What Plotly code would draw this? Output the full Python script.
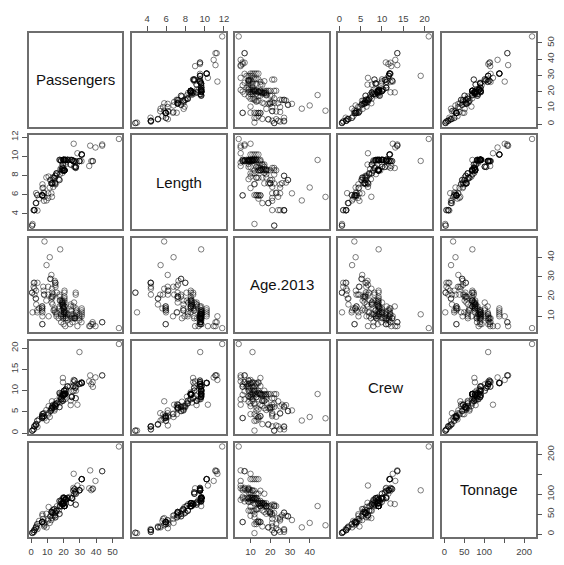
import plotly.graph_objects as go

# ---- data (one value per ship) ----
var_names = ["Passengers", "Length", "Age.2013", "Crew", "Tonnage"]

age = [6, 6, 26, 11, 17, 22, 15, 23, 19, 6, 10, 28, 18, 17, 11, 8, 9, 15, 12, 20,
       12, 14, 9, 13, 18, 11, 17, 12, 16, 13, 5, 12, 12, 21, 21, 13, 22, 27, 10, 9,
       23, 10, 20, 6, 17, 10, 18, 44, 10, 6, 15, 14, 13, 5, 20, 7, 10, 25, 16, 19,
       20, 17, 14, 27, 13, 11, 12, 5, 10, 31, 7, 9, 36, 11, 25, 11, 21, 6, 8, 21,
       14, 9, 25, 15, 9, 12, 20, 15, 13, 15, 48, 9, 29, 13, 14, 18, 5, 9, 11, 7,
       16, 9, 7, 12, 15, 10, 14, 22, 29, 9, 15, 11, 18, 14, 27, 12, 14, 16, 10, 12,
       11, 16, 13, 7, 17, 5, 9, 18, 7, 21, 10, 22, 11, 4, 13, 16, 10, 15, 14, 21,
       27, 24, 19, 13, 12, 19, 22, 21, 12, 24, 22, 14, 25, 27, 23, 40]

tonnage = [30.277, 30.277, 47.262, 110, 101.353, 70.367, 70.367, 70.367, 70.367, 110.239,
           110, 46.052, 70.367, 70.367, 86, 110, 88.5, 70.367, 88.5, 70.367,
           88.5, 101.509, 110, 101.509, 70.606, 91, 77.713, 91, 77.713, 91,
           122, 91, 2.329, 47.225, 28.43, 85.619, 52.926, 53.872, 105, 105,
           25, 86, 53.049, 114.5, 75.166, 68, 51.004, 70.327, 151.4, 90,
           83.338, 83, 61, 86, 55.451, 82, 81.769, 38, 59.652, 55.451,
           55.451, 55.451, 63, 53.872, 63, 85, 58.6, 133.5, 58.825, 35.143,
           89.6, 59.058, 16.852, 58.6, 34.25, 90, 50.76, 93.5, 91, 38,
           77.104, 81, 42, 75.338, 91, 77.104, 50.76, 30.277, 30.277, 30.277,
           22.08, 82, 45, 76, 77, 69.153, 115, 116, 91.627, 116,
           77.499, 113, 113, 108.865, 108.806, 91.627, 30.277, 70, 44.348, 113,
           77.499, 108.977, 77.499, 30.277, 12.5, 50, 33, 19.2, 46, 138,
           90.09, 74.137, 138, 158, 74.137, 160, 90.09, 70, 158, 73.941,
           138, 73.941, 138, 220, 90.09, 78.491, 90.09, 78.491, 138, 10,
           10, 10, 16.8, 25, 25, 16.8, 3.341, 19.093, 42, 40.053,
           3.341, 76.8, 5.35, 5.35, 14.745, 28]

passengers = [6.94, 6.94, 14.86, 29.74, 26.42, 20.52, 20.52, 20.56, 20.52, 37,
              29.74, 14.52, 20.52, 20.52, 21.24, 29.74, 21.24, 20.52, 21.24, 20.52,
              21.24, 27.58, 29.74, 27.58, 17.7, 20.32, 18.9, 20.32, 18.82, 20.32,
              28.5, 20.32, 0.94, 13.66, 8.08, 21.14, 13.02, 14.94, 27.2, 27.2,
              7.76, 21.14, 13.44, 38, 19.28, 10.8, 9.4, 17.91, 26.2, 20,
              17.5, 17.5, 13.8, 21.04, 12.64, 18.48, 18.48, 7.49, 13.2, 12.66,
              12.66, 12.66, 14.4, 14.94, 14.4, 18.48, 15.66, 39.59, 15.6, 12.5,
              25.5, 17, 9.52, 15.66, 10.52, 22.4, 17.48, 23.94, 22.44, 10.56,
              20.02, 21.44, 15.04, 19.56, 22.44, 20.02, 17.48, 6.84, 6.84, 6.84,
              8.26, 19.68, 11.78, 18.74, 20.16, 18.82, 35.74, 26, 19.74, 31,
              19.5, 26.74, 37.82, 27.58, 26, 19.74, 6.86, 15.9, 12, 26.74,
              19.5, 26.02, 19.5, 6.88, 3.94, 7, 4.9, 3.2, 7, 31.14,
              25.01, 19.5, 31.14, 43.7, 19.5, 36.34, 25.01, 18, 43.7, 27.44,
              31.14, 27.44, 31.14, 54, 25.01, 24.35, 25.01, 24.35, 31.14, 2.08,
              2.08, 2.08, 2.96, 3.82, 3.88, 2.96, 0.66, 8, 14.8, 12.87,
              0.66, 19.6, 1.58, 1.67, 3.08, 11.5]

length = [5.94, 5.94, 7.22, 9.53, 8.92, 8.55, 8.55, 8.55, 8.55, 9.51,
          9.51, 7.27, 8.55, 8.55, 9.63, 9.51, 9.63, 8.55, 9.63, 8.55,
          9.63, 8.93, 9.52, 8.93, 8.15, 9.65, 8.66, 9.65, 8.66, 9.65,
          10.33, 9.65, 2.96, 6.82, 6.16, 9.57, 7.18, 7.98, 8.9, 8.9,
          6.22, 9.6, 7.22, 9.51, 8.28, 7.9, 7.81, 9.63, 11.32, 9.64,
          9.64, 9.64, 7.8, 9.36, 7.19, 9.59, 9.59, 6.74, 7.8, 7.19,
          7.19, 7.19, 7.77, 7.98, 7.77, 9.51, 8.24, 10.93, 8.23, 6.15,
          9.61, 7.63, 5.41, 8.23, 6.15, 9.65, 7.54, 9.65, 9.65, 5.67,
          8.53, 9.21, 7.08, 8.79, 9.65, 8.53, 7.54, 5.94, 5.94, 5.94,
          5.78, 9.64, 7.54, 8.86, 8.56, 8.53, 9.0, 9.51, 9.64, 9.51,
          8.56, 9.51, 9.51, 9.51, 9.51, 9.64, 5.93, 8.11, 7.54, 9.51,
          8.56, 9.51, 8.56, 5.93, 4.36, 7.09, 5.6, 5.13, 6.7, 10.2,
          9.62, 9.16, 10.2, 11.12, 9.16, 11.12, 9.62, 8.67, 11.25, 8.8,
          10.2, 8.8, 10.2, 11.82, 9.62, 9.15, 9.62, 9.15, 10.2, 4.4,
          4.4, 4.4, 5.14, 5.97, 5.97, 5.14, 2.79, 5.37, 7.13, 5.79,
          2.79, 8.79, 4.4, 4.4, 6.17, 6.76]

crew = [3.55, 3.55, 6.7, 19.1, 10, 9.2, 9.2, 9.2, 9.2, 11.5,
        11.6, 6.6, 9.2, 9.2, 9.3, 11.6, 10.3, 9.2, 9.3, 9.2,
        10.29, 10, 11.6, 11.5, 8.58, 9.99, 9.09, 9.99, 9.09, 9.99,
        6.7, 9.99, 0.6, 6.7, 4, 9.2, 6.17, 6.36, 10.68, 10.68,
        3.85, 9.2, 6, 10.9, 7.66, 6.36, 5.45, 9.21, 12.53, 9,
        9.45, 9.45, 6, 8, 5.57, 8, 8.42, 4.6, 6.44, 5.88,
        5.88, 5.88, 5.61, 6.12, 5.31, 8, 7, 13.13, 7, 5.35,
        9.87, 7.4, 2.97, 7.6, 4.7, 11, 6.14, 11, 11, 4.38,
        8, 10, 6.3, 13, 11, 9.59, 6.14, 4, 4, 4,
        3.5, 8.69, 5.2, 8.5, 9.3, 7.94, 12.2, 11, 9, 12,
        9, 12.38, 12, 11, 11.1, 9, 3.73, 6.96, 5.2, 12.38,
        9, 12, 9, 3.73, 1.46, 4.45, 3.24, 2.11, 4.47, 11.85,
        8.48, 7.6, 11.76, 13.6, 7.6, 13.6, 8.69, 7.2, 13.6, 8.22,
        11.85, 8.22, 11.85, 21, 8.48, 7.65, 8.58, 6.6, 11.76, 1.6,
        1.6, 1.6, 2.1, 2.95, 2.87, 1.97, 0.59, 4.7, 6.8, 7.5,
        0.59, 12, 0.88, 0.88, 1.8, 3.8]

# tick marks for each variable
passengers_ticks = [0, 10, 20, 30, 40, 50]
length_ticks = [4, 6, 8, 10, 12]
age_ticks = [10, 20, 30, 40]
crew_ticks = [0, 5, 10, 15, 20]
tonnage_ticks = [0, 50, 100, 150, 200]
tonnage_labels = ["0", "50", "100", "", "200"]

data = [passengers, length, age, crew, tonnage]
ticks = [passengers_ticks, length_ticks, age_ticks, crew_ticks, tonnage_ticks]
tick_text = [[str(t) for t in passengers_ticks], [str(t) for t in length_ticks],
             [str(t) for t in age_ticks], [str(t) for t in crew_ticks], tonnage_labels]

# ---- layout geometry (pixels of the browser window; page body has an 8px margin) ----
OFF = 8
W, H = 564 - 2 * OFF, 565 - 2 * OFF
start_x, start_y = 27, 28.5
pitch = 105.2
panel_w, panel_h = 95.5, 96


def rng(v):
    lo, hi = min(v), max(v)
    pad = (hi - lo) * 0.04
    return [lo - pad, hi + pad]


fig = go.Figure()
layout = {}
n = len(var_names)
box_color = "#6e6e6e"
tick_font = dict(family="Liberation Sans, Arial", size=9.5, color="#444444")
pt_color = "rgba(0,0,0,0.5)"

for r in range(n):
    for c in range(n):
        k = r * n + c + 1
        xa = "xaxis" if k == 1 else f"xaxis{k}"
        ya = "yaxis" if k == 1 else f"yaxis{k}"
        xref = "x" if k == 1 else f"x{k}"
        yref = "y" if k == 1 else f"y{k}"
        x0 = start_x + pitch * c - OFF
        y0 = start_y + pitch * r - OFF
        xdom = [x0 / W, (x0 + panel_w) / W]
        ydom = [1 - (y0 + panel_h) / H, 1 - y0 / H]

        xax = dict(domain=xdom, anchor=yref, showgrid=False, zeroline=False,
                   showline=True, mirror=True, linecolor=box_color, linewidth=1.5,
                   tickfont=tick_font, fixedrange=True, range=rng(data[c]))
        yax = dict(domain=ydom, anchor=xref, showgrid=False, zeroline=False,
                   showline=True, mirror=True, linecolor=box_color, linewidth=1.5,
                   tickfont=tick_font, fixedrange=True, range=rng(data[r]))

        if r == c:
            fig.add_trace(go.Scatter(x=[None], y=[None], xaxis=xref, yaxis=yref,
                                     showlegend=False, hoverinfo="skip"))
            fig.add_annotation(x=0.5, y=0.5, xref=f"{xref} domain", yref=f"{yref} domain",
                               text=var_names[r], showarrow=False,
                               font=dict(family="Liberation Sans, Arial", size=15, color="#111111"))
        else:
            fig.add_trace(go.Scatter(
                x=data[c], y=data[r], xaxis=xref, yaxis=yref, mode="markers",
                marker=dict(symbol="circle-open", size=5.5,
                            line=dict(width=1, color=pt_color), color=pt_color),
                showlegend=False, hoverinfo="skip"))

        show_x = (r == n - 1 and c % 2 == 0) or (r == 0 and c % 2 == 1)
        if show_x:
            xax.update(tickmode="array", tickvals=ticks[c], ticktext=tick_text[c],
                       ticks="outside", ticklen=5, tickwidth=1, tickcolor="#555555",
                       showticklabels=True, side="bottom" if r == n - 1 else "top")
        else:
            xax.update(ticks="", showticklabels=False)
        show_y = (c == n - 1 and r % 2 == 0) or (c == 0 and r % 2 == 1)
        if show_y:
            yax.update(tickmode="array", tickvals=ticks[r], ticktext=tick_text[r],
                       ticks="outside", ticklen=5, tickwidth=1, tickcolor="#555555",
                       showticklabels=True, tickangle=-90,
                       side="right" if c == n - 1 else "left")
        else:
            yax.update(ticks="", showticklabels=False)

        layout[xa] = xax
        layout[ya] = yax

fig.update_layout(**layout)
fig.update_layout(width=W, height=H, margin=dict(l=0, r=0, t=0, b=0),
                  paper_bgcolor="white", plot_bgcolor="white", showlegend=False)

fig.write_html("out.html")
